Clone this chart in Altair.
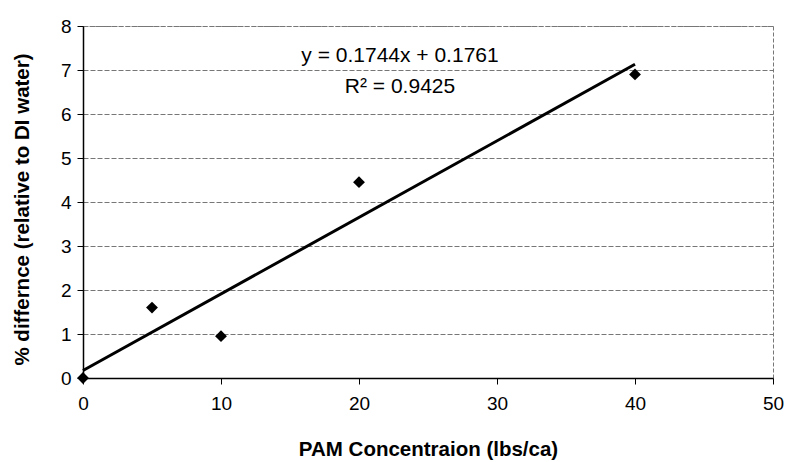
import altair as alt
import pandas as pd

pam = [0, 5, 10, 20, 40]
diff = [0.0, 1.6, 0.95, 4.45, 6.9]
x_ticks = [0, 10, 20, 30, 40, 50]
y_ticks = [0, 1, 2, 3, 4, 5, 6, 7, 8]
eq_lines = ["y = 0.1744x + 0.1761", "R² = 0.9425"]

df = pd.DataFrame({"x": pam, "y": diff})
FONT = "Liberation Sans"

xs = alt.Scale(domain=[0, 50], nice=False)
ys = alt.Scale(domain=[0, 8], nice=False)

xax = alt.Axis(values=x_ticks, title="PAM Concentraion (lbs/ca)", grid=False, labelFlush=False,
               domainColor="black", domainWidth=1.5, tickColor="black", tickSize=6,
               labelFontSize=19, labelFont=FONT, labelColor="black", labelPadding=10,
               titleFont=FONT, titleFontSize=20.5, titleFontWeight="bold", titleColor="black",
               titleX=345, titleY=71, titleBaseline="middle")
yax = alt.Axis(values=y_ticks, title="% differnce (relative to DI water)", grid=True, labelFlush=False,
               gridColor="#777", gridDash=[5, 2], gridWidth=1,
               domainColor="black", domainWidth=1.5, tickColor="black", tickSize=6,
               labelFontSize=19, labelFont=FONT, labelColor="black", labelPadding=6,
               titleFont=FONT, titleFontSize=20.5, titleFontWeight="bold", titleColor="black",
               titleX=-61, titleY=183, titleBaseline="middle", titleAngle=-90)

base = alt.Chart(df)

points = base.mark_point(shape="diamond", filled=True, color="black", size=140, opacity=1).encode(
    x=alt.X("x:Q", scale=xs, axis=xax),
    y=alt.Y("y:Q", scale=ys, axis=yax),
)

trend = base.transform_regression("x", "y", extent=[0, 40]).mark_line(color="black", strokeWidth=3).encode(
    x=alt.X("x:Q", scale=xs, axis=xax),
    y=alt.Y("y:Q", scale=ys, axis=yax),
)

ann1 = alt.Chart(pd.DataFrame({"t": [eq_lines[0]]})).mark_text(
    font=FONT, fontSize=21, color="black", baseline="middle", align="center").encode(
    text="t:N", x=alt.value(317), y=alt.value(30))
ann2 = alt.Chart(pd.DataFrame({"t": [eq_lines[1]]})).mark_text(
    font=FONT, fontSize=21, color="black", baseline="middle", align="center").encode(
    text="t:N", x=alt.value(317), y=alt.value(61))

chart = alt.layer(trend, points, ann1, ann2).properties(
    width=690, height=352,
    padding={"left": 83, "top": 26, "right": 14, "bottom": 84},
    autosize=alt.AutoSizeParams(type="none"),
    background="white",
).configure_view(stroke="#777", strokeDash=[4, 2], strokeWidth=1)

chart.save("out.html", embed_options={"renderer": "svg", "actions": False})
